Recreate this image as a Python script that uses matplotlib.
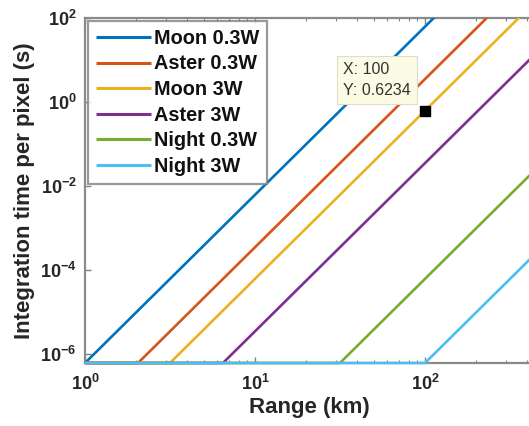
import numpy as np
import matplotlib
matplotlib.use("Agg")
import matplotlib.pyplot as plt
from matplotlib.ticker import FixedLocator, FuncFormatter, LogLocator, NullLocator

plt.rcParams['font.family'] = ['Liberation Sans', 'DejaVu Sans']
plt.rcParams['mathtext.fontset'] = 'custom'
plt.rcParams['mathtext.rm'] = 'Liberation Sans:bold'
plt.rcParams['mathtext.bf'] = 'Liberation Sans:bold'
plt.rcParams['mathtext.it'] = 'Liberation Sans:bold'

# ---- data ----
labels = ["Moon 0.3W", "Aster 0.3W", "Moon 3W", "Aster 3W", "Night 0.3W", "Night 3W"]
colors = ["#0072BD", "#D95319", "#EDB120", "#7E2F8E", "#77AC30", "#4DBEEE"]
floor_time = 6.234e-7                      # minimum integration time (s)
range_start = [1.0, 1.0, 1.0, 1.0, 1.0, 1.0]  # km
range_knee = [1.0, 2.05, 3.16, 6.48, 31.6, 100.0]  # km where line leaves the floor
range_end = [500.0, 500.0, 500.0, 500.0, 500.0, 500.0]  # km
time_end = [38960.0, 2206.0, 389.6, 22.06, 0.03896, 3.896e-4]  # s at range_end
tip_x = 100
tip_y = 0.6234

x_ticks = [1, 10, 100]
y_ticks = [1e-6, 1e-4, 1e-2, 1e0, 1e2]

fig = plt.figure(figsize=(5.29, 4.26), dpi=100)
W, H = 529, 426
left_px, right_px, top_px, bot_px = 85, 85 + 2.64 * 170, 18, 363
ax = fig.add_axes([left_px / W, 1 - bot_px / H, (right_px - left_px) / W, (bot_px - top_px) / H])
ax.set_xscale('log')
ax.set_yscale('log')

for lab, c, r0, rk, r1, t1 in zip(labels, colors, range_start, range_knee, range_end, time_end):
    ax.plot([r0, rk, r1], [floor_time, floor_time, t1], color=c, lw=1.9, label=lab,
            solid_capstyle='butt', zorder=3, clip_on=False)

ax.set_xlim(1, 10 ** 2.64)
ax.set_ylim(floor_time, 1e2)
# clip lines to the axes area but allow them to sit on the bottom spine
import matplotlib.transforms as mtransforms
from matplotlib.patches import Rectangle
clip_rect = Rectangle((0, -0.02), 1, 1.02, transform=ax.transAxes, visible=False)
ax.add_patch(clip_rect)
for ln in ax.get_lines():
    ln.set_clip_on(True)
    ln.set_clip_path(clip_rect)

# data tip
ax.plot([tip_x], [tip_y], marker='s', color='black', ms=7, zorder=5)
ax.annotate(f"X: {tip_x}\nY: {tip_y}", xy=(tip_x, tip_y), xytext=(-14, 13),
            textcoords='offset pixels', ha='right', va='bottom', fontsize=11.5,
            multialignment='left', color='#333333', linespacing=1.45,
            bbox=dict(boxstyle='square,pad=0.4', fc='#FBFBE6', ec='#DDDDCC', lw=0.8),
            zorder=6)

# ticks
ax.xaxis.set_major_locator(FixedLocator(x_ticks))
ax.xaxis.set_minor_locator(LogLocator(base=10, subs=np.arange(2, 10)))
ax.yaxis.set_major_locator(FixedLocator(y_ticks))
ax.yaxis.set_minor_locator(NullLocator())
fmt = FuncFormatter(lambda v, p: r'$\mathbf{10^{%d}}$' % int(round(np.log10(v))))
ax.xaxis.set_major_formatter(fmt)
ax.yaxis.set_major_formatter(fmt)
ax.tick_params(which='both', direction='in', top=True, right=False, colors='#808080',
               labelcolor='#262626', labelsize=13)
ax.tick_params(which='major', length=4, width=1)
ax.tick_params(which='minor', length=2.5, width=0.8)
ax.tick_params(axis='x', pad=8)
ax.tick_params(axis='y', pad=6)
for s in ax.spines.values():
    s.set_color('#8A8A8A')
    s.set_linewidth(1.6)

ax.set_xlabel("Range (km)", fontsize=16, fontweight='bold', color='#262626', labelpad=2)
ax.set_ylabel("Integration time per pixel (s)", fontsize=16, fontweight='bold', color='#262626', labelpad=4)

leg = ax.legend(loc='upper left', bbox_to_anchor=(0.0, 1.0), borderaxespad=0.15,
                fancybox=False, frameon=True, handlelength=2.75,
                handletextpad=0.15, labelspacing=0.33, borderpad=0.4,
                prop={'weight': 'bold', 'size': 14.3})
leg.get_frame().set_edgecolor('#808080')
leg.get_frame().set_linewidth(1.6)
for line in leg.get_lines():
    line.set_linewidth(2.2)
for t in leg.get_texts():
    t.set_color('#111111')

fig.savefig("out.png", dpi=100)
